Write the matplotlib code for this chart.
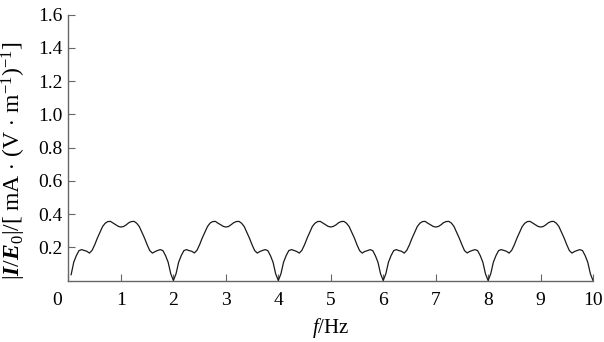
import matplotlib.pyplot as plt
import numpy as np

# frequency axis, Hz (step 0.05)
freq = np.round(np.arange(0.05, 10.0001, 0.05), 2)

# |I/E0|, one list per 2 Hz period
period_1 = [0.035, 0.11, 0.15, 0.18, 0.186, 0.181, 0.176, 0.165, 0.182, 0.215,
            0.255, 0.29, 0.325, 0.345, 0.355, 0.356, 0.346, 0.336, 0.326, 0.322,
            0.325, 0.335, 0.348, 0.355, 0.356, 0.345, 0.325, 0.29, 0.255, 0.215,
            0.18, 0.165, 0.174, 0.181, 0.186, 0.18, 0.15, 0.11, 0.04, 0.0]
period_2 = [0.04, 0.11, 0.15, 0.18, 0.186, 0.18, 0.176, 0.166, 0.182, 0.216,
            0.256, 0.29, 0.325, 0.346, 0.355, 0.356, 0.345, 0.336, 0.326, 0.322,
            0.325, 0.336, 0.348, 0.355, 0.356, 0.345, 0.325, 0.29, 0.255, 0.215,
            0.18, 0.165, 0.175, 0.181, 0.186, 0.18, 0.15, 0.11, 0.04, 0.0]
period_3 = [0.04, 0.11, 0.15, 0.18, 0.186, 0.181, 0.175, 0.165, 0.182, 0.215,
            0.255, 0.29, 0.326, 0.345, 0.355, 0.356, 0.346, 0.336, 0.326, 0.322,
            0.326, 0.335, 0.348, 0.355, 0.356, 0.345, 0.325, 0.29, 0.256, 0.215,
            0.18, 0.165, 0.175, 0.18, 0.186, 0.18, 0.15, 0.11, 0.04, 0.0]
period_4 = [0.04, 0.11, 0.15, 0.18, 0.186, 0.18, 0.176, 0.165, 0.182, 0.215,
            0.255, 0.29, 0.325, 0.345, 0.355, 0.356, 0.345, 0.336, 0.326, 0.322,
            0.325, 0.335, 0.348, 0.355, 0.356, 0.346, 0.325, 0.29, 0.255, 0.216,
            0.18, 0.166, 0.175, 0.181, 0.186, 0.18, 0.15, 0.11, 0.04, 0.0]
period_5 = [0.04, 0.11, 0.15, 0.18, 0.186, 0.181, 0.176, 0.165, 0.182, 0.215,
            0.255, 0.29, 0.325, 0.345, 0.355, 0.356, 0.346, 0.336, 0.326, 0.322,
            0.325, 0.335, 0.348, 0.355, 0.356, 0.345, 0.325, 0.29, 0.255, 0.215,
            0.18, 0.165, 0.175, 0.181, 0.186, 0.18, 0.15, 0.11, 0.04, 0.0]
current = period_1 + period_2 + period_3 + period_4 + period_5

x_ticks = list(range(0, 11))
y_ticks = [0.2, 0.4, 0.6, 0.8, 1.0, 1.2, 1.4, 1.6]

plt.rcParams['font.family'] = 'Liberation Serif'
plt.rcParams['mathtext.fontset'] = 'custom'
plt.rcParams['mathtext.rm'] = 'Liberation Serif'
plt.rcParams['mathtext.it'] = 'Liberation Serif:italic'
plt.rcParams['mathtext.bf'] = 'Liberation Serif:bold'
plt.rcParams['mathtext.bfit'] = 'Liberation Serif:italic:bold'

fig = plt.figure(figsize=(6.04, 3.42), dpi=100)
ax = fig.add_axes([0.1134, 0.1798, 0.8684, 0.777])

ax.plot(freq, current, color='#1a1a1a', linewidth=0.9)

ax.set_xlim(0, 10)
ax.set_ylim(0, 1.6)
ax.set_xticks(x_ticks)
ax.set_xticklabels([''] + [str(t) for t in x_ticks[1:]])
ax.set_yticks(y_ticks)
ax.set_yticklabels([f'{t:.1f}' for t in y_ticks])

for s in ['top', 'right']:
    ax.spines[s].set_visible(False)
for s in ['left', 'bottom']:
    ax.spines[s].set_color('#666666')
    ax.spines[s].set_linewidth(1.0)

ax.tick_params(axis='both', direction='in', length=5, width=0.8,
               color='#666666', labelsize=14)
ax.tick_params(axis='x', pad=8)
ax.tick_params(axis='y', pad=4)

ax.annotate('0', xy=(0, 0), xycoords='data', xytext=(-8, -8),
            textcoords='offset points', ha='center', va='top', fontsize=14)

ax.set_xlabel(r'$f$/Hz', fontsize=15, labelpad=5)
ax.set_ylabel(r'$|\mathbfit{I}/\mathbfit{E}_0|/[\;\mathrm{mA}\,\cdot\,(\mathrm{V}\,\cdot\,\mathrm{m}^{-1})^{-1}]$',
              fontsize=17)
ax.yaxis.set_label_coords(-0.077, 0.45)

fig.savefig('out.png', dpi=100)
